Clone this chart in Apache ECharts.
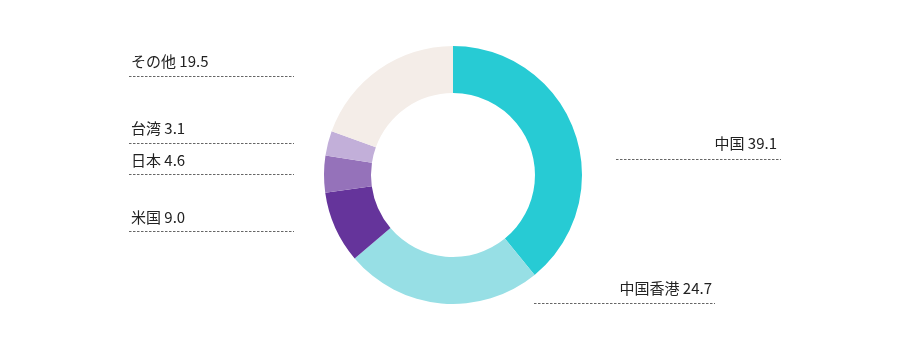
<!DOCTYPE html>
<html>
<head>
<meta charset="utf-8">
<script src="https://cdn.jsdelivr.net/npm/echarts@6/dist/echarts.min.js"></script>
<style>html,body{margin:0;padding:0;background:#fff;}#c{width:900px;height:354px;}</style>
</head>
<body>
<div id="c"></div>
<script>
var categories = ['中国', '中国香港', '米国', '日本', '台湾', 'その他'];
var values = [39.1, 24.7, 9.0, 4.6, 3.1, 19.5];
var colors = ['#27CBD4', '#97DFE5', '#65349B', '#9572BA', '#C2AFD9', '#F4EDE8'];

// label anchor layout (x, y, alignment, underline x1, x2, y)
var labelLayouts = [
  {x: 777, y: 143, align: 'right', lx1: 616, lx2: 781, ly: 159.5},
  {x: 712, y: 288, align: 'right', lx1: 534, lx2: 715, ly: 303.5},
  {x: 131, y: 217, align: 'left', lx1: 129, lx2: 294, ly: 231.5},
  {x: 131, y: 160, align: 'left', lx1: 129, lx2: 294, ly: 174.5},
  {x: 131, y: 128, align: 'left', lx1: 129, lx2: 294, ly: 143.5},
  {x: 131, y: 61, align: 'left', lx1: 129, lx2: 294, ly: 76.5}
];

var chart = echarts.init(document.getElementById('c'), null, {renderer: 'canvas'});
var data = categories.map(function (n, i) {
  return {name: n, value: values[i], itemStyle: {color: colors[i]}};
});
chart.setOption({
  animation: false,
  series: [{
    type: 'pie',
    center: [453, 175],
    radius: [82, 129],
    startAngle: 90,
    clockwise: true,
    avoidLabelOverlap: false,
    data: data,
    label: {
      show: true,
      position: 'outside',
      formatter: function (p) { return p.name + ' ' + p.value.toFixed(1); },
      fontFamily: 'Noto Sans CJK JP',
      fontSize: 15,
      color: '#222'
    },
    labelLine: {
      show: true,
      lineStyle: {color: '#666', width: 1, type: [2.5, 1.5]}
    },
    emphasis: {disabled: true},
    labelLayout: function (params) {
      var L = labelLayouts[params.dataIndex];
      var my = (L.lx1 + L.lx2) / 2;
      return {
        x: L.x,
        y: L.y,
        align: L.align,
        verticalAlign: 'middle',
        labelLinePoints: [[L.lx1, L.ly], [my, L.ly], [L.lx2, L.ly]]
      };
    }
  }]
});
</script>
</body>
</html>
